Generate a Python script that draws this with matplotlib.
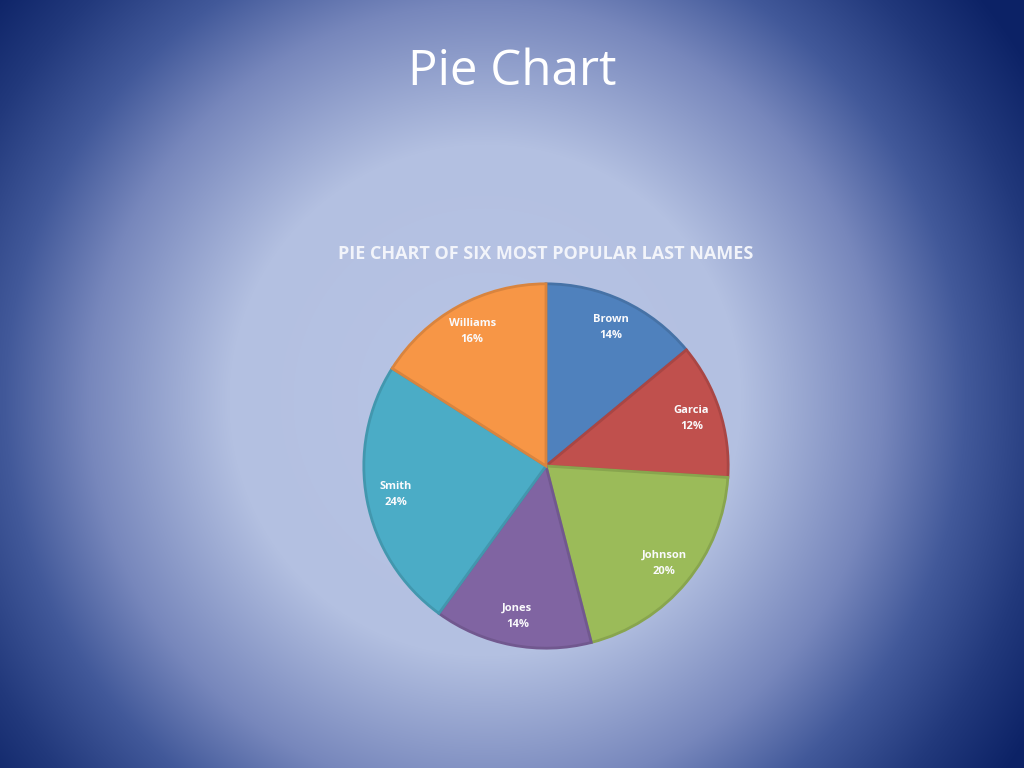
import numpy as np
import matplotlib
matplotlib.use("Agg")
import matplotlib.pyplot as plt
from matplotlib.colors import to_rgb

names = ['Brown', 'Garcia', 'Johnson', 'Jones', 'Smith', 'Williams']
shares = [14, 12, 20, 14, 24, 16]
colors = ['#4F81BD', '#C0504D', '#9BBB59', '#8064A2', '#4BACC6', '#F79646']

plt.rcParams['font.family'] = ['Open Sans', 'DejaVu Sans']

W, H = 1024, 768
fig = plt.figure(figsize=(W / 100, H / 100), dpi=100)

# radial gradient slide background
bg = fig.add_axes([0, 0, 1, 1])
yy, xx = np.mgrid[0:H, 0:W]
r = np.hypot(xx - 485, yy - 400) / 640.0
stops = [0.0, 0.40, 0.62, 0.75, 0.88, 1.0]
cols = np.array([to_rgb(c) for c in ['#B8C4E5', '#B3C0E1', '#7787BC', '#42599A',
                                     '#22397C', '#0C2266']])
img = np.zeros((H, W, 3))
for k in range(3):
    img[..., k] = np.interp(np.clip(r, 0, 1), stops, cols[:, k])
bg.imshow(img, extent=[0, W, H, 0], aspect='auto', interpolation='bilinear')
bg.set_xlim(0, W)
bg.set_ylim(H, 0)
bg.axis('off')

bg.text(512, 72, 'Pie Chart', color='white', fontsize=35.5, ha='center', va='center')
bg.text(546, 254, 'PIE CHART OF SIX MOST POPULAR LAST NAMES', color='#F2F4FA',
        fontsize=13, fontweight='bold', ha='center', va='center')


def darker(c, f=0.8):
    return tuple(v * f for v in to_rgb(c))


ax = fig.add_axes([362 / W, 118 / H, 368 / W, 368 / H])
wedges, _ = ax.pie(shares, colors=colors, startangle=90, counterclock=False,
                   radius=1.0, wedgeprops=dict(linewidth=0))
for w, c in zip(wedges, colors):
    w.set_edgecolor(darker(c, 0.88))
    w.set_linewidth(2)

total = sum(shares)
start = 90.0
for name, val in zip(names, shares):
    mid = np.deg2rad(start - val / total * 360 / 2)
    start -= val / total * 360
    d = 0.84
    ax.text(d * np.cos(mid), d * np.sin(mid), f'{name}\n{val}%', color='#FAFAFC',
            fontsize=8, fontweight='bold', ha='center', va='center', linespacing=1.65)
ax.set_xlim(-1.01, 1.01)
ax.set_ylim(-1.01, 1.01)
ax.set_aspect('equal')
ax.axis('off')

fig.savefig('out.png', dpi=100)
